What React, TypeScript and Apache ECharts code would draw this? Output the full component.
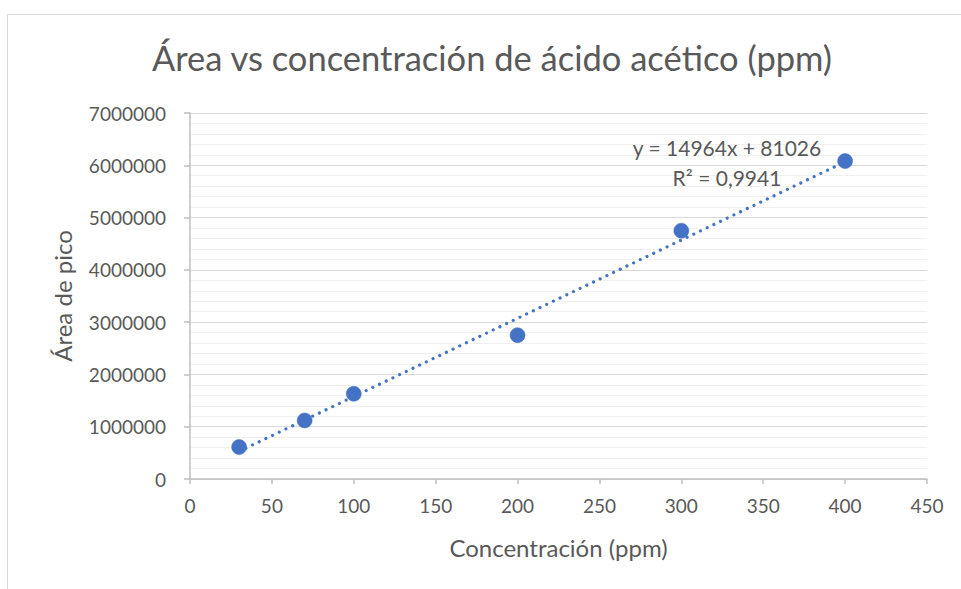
import React, { useEffect, useRef } from "react";
import * as echarts from "echarts";

// Concentration of acetic acid (ppm) and measured peak area
const concentraciones = [30, 70, 100, 200, 300, 400];
const areas = [610000, 1120000, 1630000, 2750000, 4750000, 6080000];

// Linear trendline coefficients, as printed in the equation label
const pendiente = 14964;
const intercepto = 81026;
const r2 = "0,9941";

const yTicks = [0, 1000000, 2000000, 3000000, 4000000, 5000000, 6000000, 7000000];
const xTicks = [0, 50, 100, 150, 200, 250, 300, 350, 400, 450];

const FONT = "Lato, 'Liberation Sans', sans-serif";
const TEXT = "#595959";
const BLUE = "#4472C4";

export default function App() {
  const ref = useRef<HTMLDivElement>(null);

  useEffect(() => {
    if (!ref.current) return;
    const chart = echarts.init(ref.current, undefined, { renderer: "svg" });

    const xMin = concentraciones[0];
    const xMax = concentraciones[concentraciones.length - 1];
    const tendencia = [
      [xMin, pendiente * xMin + intercepto],
      [xMax, pendiente * xMax + intercepto],
    ];

    chart.setOption({
      animation: false,
      backgroundColor: "#ffffff",
      textStyle: { fontFamily: FONT, color: TEXT },
      grid: { left: 190, right: 34, top: 113, bottom: 110 },
      xAxis: {
        type: "value",
        min: xTicks[0],
        max: xTicks[xTicks.length - 1],
        interval: 50,
        name: "Concentración (ppm)",
        nameLocation: "middle",
        nameGap: 56,
        nameTextStyle: { fontFamily: FONT, fontSize: 24, color: TEXT },
        axisLine: { show: true, lineStyle: { color: "#BFBFBF", width: 1.5 } },
        axisTick: { show: true, length: 5, lineStyle: { color: "#BFBFBF", width: 1.5 } },
        axisLabel: { fontFamily: FONT, fontSize: 19, color: TEXT, margin: 17 },
        splitLine: { show: false },
      },
      yAxis: {
        type: "value",
        min: yTicks[0],
        max: yTicks[yTicks.length - 1],
        interval: 1000000,
        name: "Área de pico",
        nameLocation: "middle",
        nameGap: 116,
        nameRotate: 90,
        nameTextStyle: { fontFamily: FONT, fontSize: 24, color: TEXT },
        axisLine: { show: true, lineStyle: { color: "#BFBFBF", width: 1.5 } },
        axisTick: { show: true, length: 6, lineStyle: { color: "#BFBFBF", width: 1.5 } },
        axisLabel: {
          fontFamily: FONT,
          fontSize: 19,
          color: TEXT,
          margin: 24,
          formatter: (v: number) => String(v),
        },
        splitLine: { show: true, lineStyle: { color: "#D9D9D9", width: 1.2 } },
        minorTick: { show: false, splitNumber: 5 },
        minorSplitLine: { show: true, lineStyle: { color: "#F0F0F0", width: 1.2 } },
      },
      series: [
        {
          type: "line",
          data: tendencia,
          symbol: "none",
          z: 2,
          lineStyle: { color: BLUE, width: 3.2, type: [0.01, 7.4], cap: "round" },
        },
        {
          type: "scatter",
          data: concentraciones.map((c, i) => [c, areas[i]]),
          symbol: "circle",
          symbolSize: 15,
          z: 3,
          itemStyle: { color: BLUE, borderColor: BLUE, borderWidth: 0.5, opacity: 1 },
        },
      ],
      graphic: [
        {
          type: "rect",
          left: 5,
          top: 12,
          shape: { x: 0, y: 0, width: 1000, height: 1000 },
          style: { fill: "none", stroke: "#D9D9D9", lineWidth: 1 },
          silent: true,
          z: -1,
        },
        {
          type: "text",
          x: 492,
          y: 57,
          style: {
            text: "Área vs concentración de ácido acético (ppm)",
            fontFamily: FONT,
            fontSize: 34.5,
            fill: TEXT,
            align: "center",
            verticalAlign: "middle",
          },
          z: 10,
        },
        {
          type: "text",
          x: 727,
          y: 147,
          style: {
            text: `y = ${pendiente}x + ${intercepto}`,
            fontFamily: FONT,
            fontSize: 21,
            fill: TEXT,
            align: "center",
            verticalAlign: "middle",
          },
          z: 10,
        },
        {
          type: "text",
          x: 727,
          y: 177,
          style: {
            text: `R² = ${r2}`,
            fontFamily: FONT,
            fontSize: 21,
            fill: TEXT,
            align: "center",
            verticalAlign: "middle",
          },
          z: 10,
        },
      ],
    });

    return () => chart.dispose();
  }, []);

  return (
    <div
      ref={ref}
      style={{ position: "fixed", left: 0, top: 0, width: 961, height: 589, background: "#fff" }}
    />
  );
}
